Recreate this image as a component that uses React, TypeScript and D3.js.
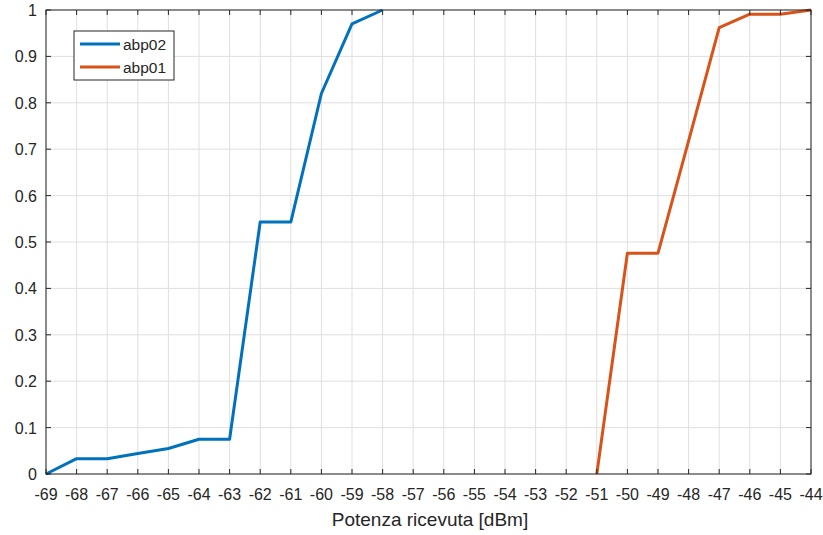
import React from "react";
import * as d3 from "d3";

const xTicks = d3.range(-69, -43, 1);
const yTicks = [0, 0.1, 0.2, 0.3, 0.4, 0.5, 0.6, 0.7, 0.8, 0.9, 1];

const abp02X = [-69, -68, -67, -66, -65, -64, -63, -62, -61, -60, -59, -58];
const abp02Y = [0, 0.033, 0.033, 0.044, 0.055, 0.075, 0.075, 0.543, 0.543, 0.82, 0.97, 1.0];

const abp01X = [-51, -50, -49, -48, -47, -46, -45, -44];
const abp01Y = [0, 0.476, 0.476, 0.718, 0.962, 0.991, 0.991, 1.0];

const series = [
  { name: "abp02", xs: abp02X, ys: abp02Y, color: "#0072BD" },
  { name: "abp01", xs: abp01X, ys: abp01Y, color: "#D95319" },
];

export default function App() {
  const W = 823, H = 535;
  const left = 46, right = 811, top = 10, bottom = 474;
  const x = d3.scaleLinear().domain([-69, -44]).range([left, right]);
  const y = d3.scaleLinear().domain([0, 1]).range([bottom, top]);
  const line = d3.line<[number, number]>().x(d => x(d[0])).y(d => y(d[1]));
  const font = "'Liberation Sans', Arial, Helvetica, sans-serif";
  const tickLen = 5;
  return (
    <svg width={W} height={H} style={{ position: "absolute", left: 0, top: 0 }} fontFamily={font}>
      <rect x={0} y={0} width={W} height={H} fill="#fff" />
      {/* grid */}
      {xTicks.map(t => (
        <line key={"gx" + t} x1={x(t)} x2={x(t)} y1={top} y2={bottom} stroke="#dfdfdf" strokeWidth={1} />
      ))}
      {yTicks.map(t => (
        <line key={"gy" + t} x1={left} x2={right} y1={y(t)} y2={y(t)} stroke="#dfdfdf" strokeWidth={1} />
      ))}
      {/* series */}
      {series.map(s => (
        <path key={s.name} d={line(s.xs.map((v, i) => [v, s.ys[i]] as [number, number])) || ""}
          fill="none" stroke={s.color} strokeWidth={3} strokeLinejoin="round" />
      ))}
      {/* box */}
      <rect x={left} y={top} width={right - left} height={bottom - top} fill="none" stroke="#262626" strokeWidth={1} />
      {/* ticks */}
      {xTicks.map(t => (
        <g key={"tx" + t}>
          <line x1={x(t)} x2={x(t)} y1={bottom} y2={bottom - tickLen} stroke="#262626" />
          <line x1={x(t)} x2={x(t)} y1={top} y2={top + tickLen} stroke="#262626" />
          <text x={x(t)} y={500} textAnchor="middle" fontSize={16} fill="#262626">{t}</text>
        </g>
      ))}
      {yTicks.map(t => (
        <g key={"ty" + t}>
          <line x1={left} x2={left + tickLen} y1={y(t)} y2={y(t)} stroke="#262626" />
          <line x1={right} x2={right - tickLen} y1={y(t)} y2={y(t)} stroke="#262626" />
          <text x={37} y={y(t) + 6} textAnchor="end" fontSize={16} fill="#262626">{t}</text>
        </g>
      ))}
      <text x={430} y={526} textAnchor="middle" fontSize={19} fill="#262626">Potenza ricevuta [dBm]</text>
      {/* legend */}
      <rect x={74} y={31} width={100} height={49} fill="#fff" stroke="#262626" strokeWidth={1} />
      {series.map((s, i) => (
        <g key={"lg" + s.name}>
          <line x1={80} x2={120} y1={44 + i * 23} y2={44 + i * 23} stroke={s.color} strokeWidth={3} />
          <text x={123} y={49.5 + i * 23} fontSize={15.5} fill="#262626">{s.name}</text>
        </g>
      ))}
    </svg>
  );
}
